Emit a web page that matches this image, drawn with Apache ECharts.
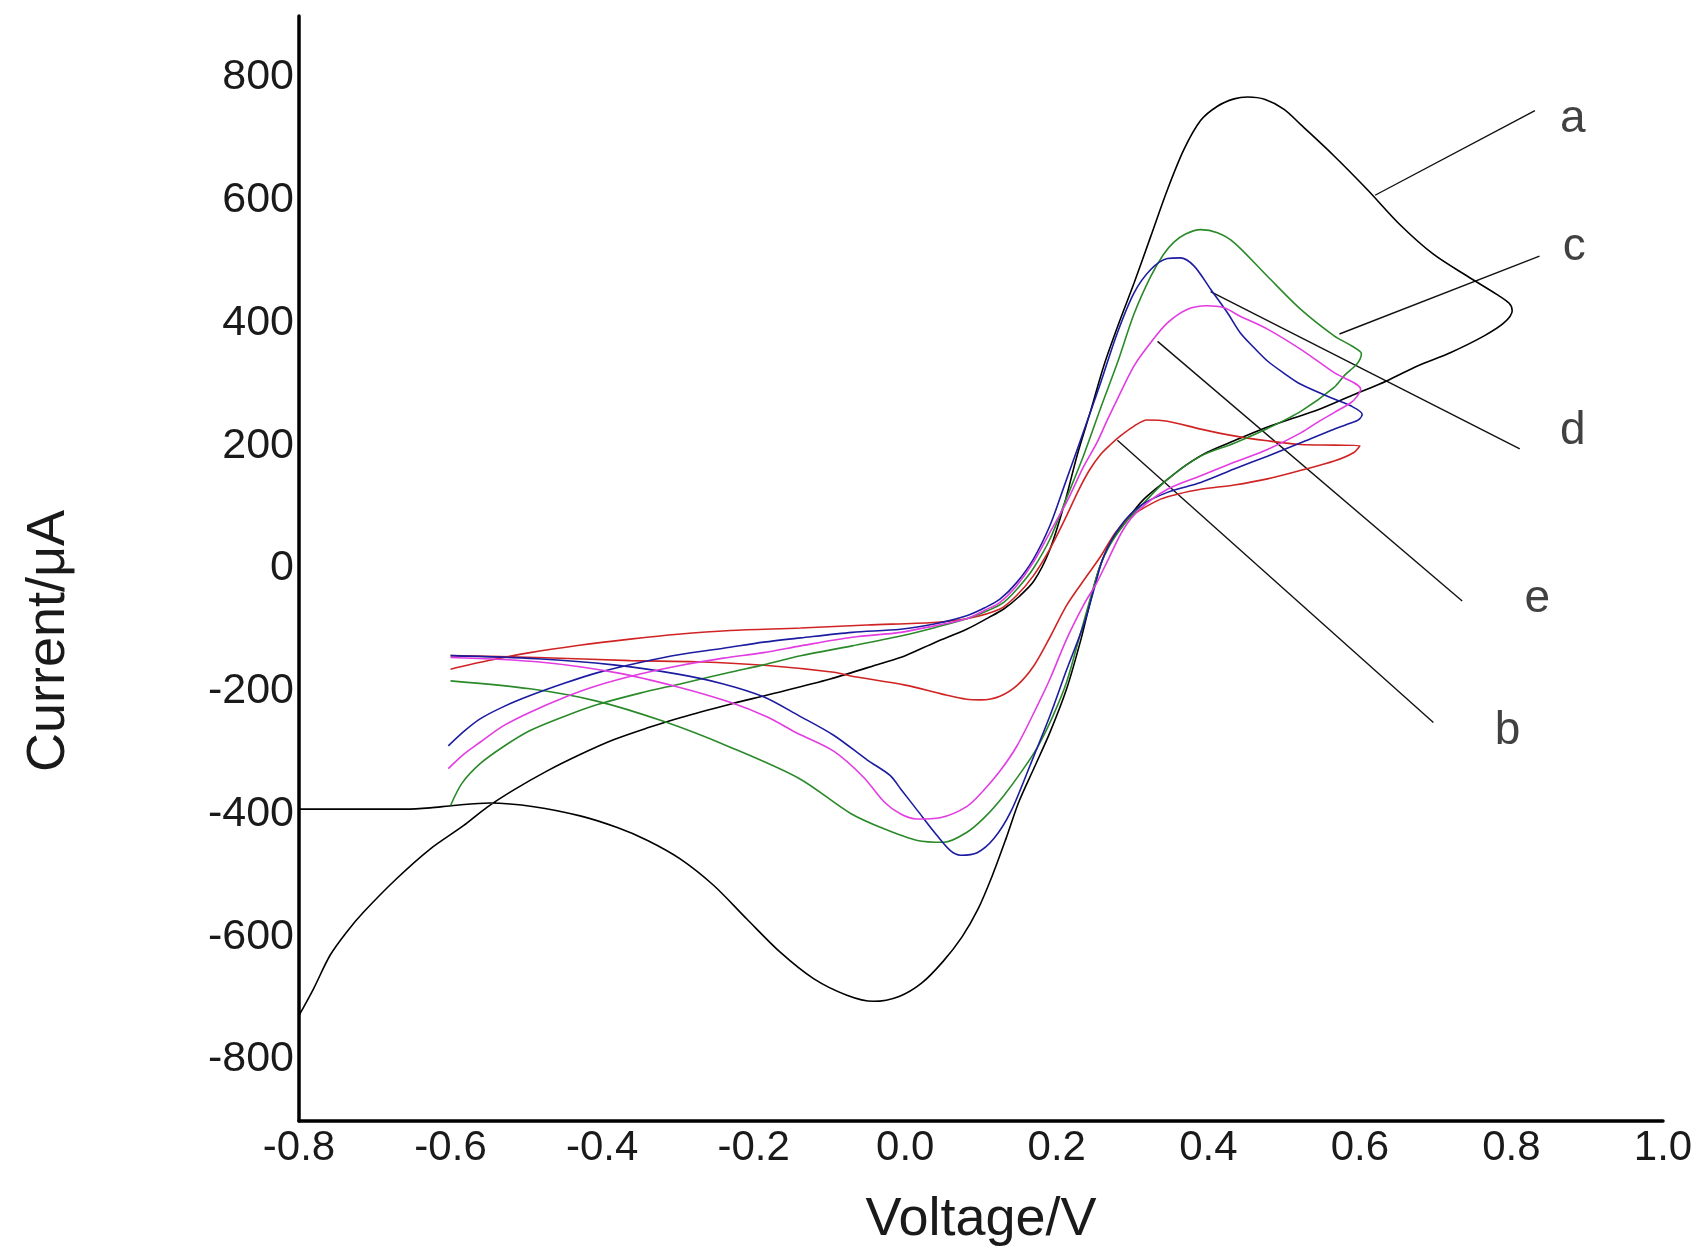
<!DOCTYPE html>
<html>
<head>
<meta charset="utf-8">
<style>
html,body{margin:0;padding:0;background:#fff;}
#chart{width:1704px;height:1255px;}
</style>
<script src="https://cdn.jsdelivr.net/npm/echarts@6/dist/echarts.min.js"></script>
</head>
<body>
<div id="chart"></div>
<script>
// Cyclic voltammograms: [voltage V, current µA] in sweep order
const curveA = [
[-0.800,-728],[-0.781,-685],[-0.759,-630],[-0.737,-592],[-0.715,-560],[-0.671,-505],[-0.627,-457],[-0.583,-419],[-0.552,-389],[-0.517,-361],[-0.473,-330],[-0.429,-303],[-0.385,-279],[-0.341,-260],[-0.297,-243],[-0.231,-221],[-0.182,-206],[-0.099,-180],[-0.033,-155],[0.000,-142],[0.040,-120],[0.081,-99],[0.110,-80],[0.130,-66],[0.150,-46],[0.170,-20],[0.190,28],[0.210,105],[0.227,185],[0.245,258],[0.262,330],[0.282,400],[0.302,465],[0.324,541],[0.346,617],[0.368,683],[0.390,730],[0.412,753],[0.434,765],[0.452,768],[0.475,764],[0.500,748],[0.522,723],[0.566,672],[0.610,617],[0.653,560],[0.697,512],[0.742,476],[0.780,447],[0.797,432],[0.801,420],[0.790,400],[0.764,379],[0.720,352],[0.676,330],[0.636,306],[0.588,281],[0.544,258],[0.500,240],[0.473,228],[0.434,208],[0.398,189],[0.370,168],[0.346,145],[0.315,113],[0.293,80],[0.271,42],[0.256,0],[0.245,-50],[0.232,-115],[0.213,-196],[0.191,-267],[0.170,-325],[0.150,-380],[0.133,-440],[0.115,-500],[0.096,-555],[0.075,-600],[0.050,-640],[0.022,-675],[-0.008,-697],[-0.042,-705],[-0.077,-695],[-0.121,-668],[-0.165,-625],[-0.209,-571],[-0.253,-516],[-0.297,-473],[-0.340,-443],[-0.380,-422],[-0.429,-403],[-0.490,-388],[-0.548,-382],[-0.596,-386],[-0.627,-390],[-0.660,-392],[-0.800,-392]
];
const curveB = [
[-0.600,-164],[-0.550,-150],[-0.495,-137],[-0.430,-125],[-0.363,-115],[-0.300,-107],[-0.231,-101],[-0.138,-97],[-0.050,-92],[0.037,-88],[0.081,-82],[0.125,-66],[0.147,-44],[0.169,-12],[0.191,32],[0.213,86],[0.229,128],[0.243,160],[0.258,186],[0.271,202],[0.284,216],[0.302,232],[0.319,242],[0.346,240],[0.390,227],[0.434,216],[0.478,208],[0.522,202],[0.566,201],[0.600,200],[0.592,189],[0.566,175],[0.522,160],[0.478,146],[0.434,136],[0.390,129],[0.359,121],[0.337,113],[0.310,95],[0.293,80],[0.277,58],[0.258,20],[0.238,-15],[0.213,-60],[0.191,-112],[0.170,-158],[0.148,-190],[0.125,-208],[0.100,-214],[0.081,-213],[0.050,-205],[0.000,-190],[-0.072,-175],[-0.094,-169],[-0.182,-158],[-0.275,-152],[-0.363,-150],[-0.486,-145],[-0.600,-142]
];
const curveC = [
[-0.600,-386],[-0.585,-350],[-0.561,-318],[-0.530,-290],[-0.495,-264],[-0.450,-241],[-0.407,-222],[-0.350,-203],[-0.297,-188],[-0.231,-169],[-0.187,-157],[-0.138,-142],[-0.070,-126],[-0.006,-110],[0.040,-96],[0.081,-82],[0.110,-68],[0.130,-55],[0.150,-30],[0.169,0],[0.191,48],[0.213,115],[0.235,183],[0.258,262],[0.280,335],[0.302,415],[0.324,476],[0.341,512],[0.355,532],[0.370,545],[0.390,552],[0.412,547],[0.434,531],[0.478,476],[0.522,422],[0.566,379],[0.590,362],[0.602,350],[0.596,333],[0.580,315],[0.566,295],[0.522,256],[0.478,228],[0.434,204],[0.390,183],[0.346,145],[0.315,107],[0.293,78],[0.271,40],[0.256,0],[0.244,-50],[0.228,-120],[0.213,-185],[0.195,-240],[0.175,-290],[0.155,-328],[0.130,-370],[0.105,-405],[0.081,-430],[0.051,-446],[0.016,-443],[-0.028,-424],[-0.072,-399],[-0.140,-342],[-0.231,-291],[-0.319,-249],[-0.407,-216],[-0.495,-196],[-0.600,-183]
];
const curveD = [
[-0.603,-289],[-0.582,-265],[-0.561,-245],[-0.530,-225],[-0.495,-207],[-0.450,-187],[-0.407,-170],[-0.350,-153],[-0.297,-140],[-0.240,-130],[-0.187,-120],[-0.138,-113],[-0.070,-104],[-0.006,-99],[0.040,-90],[0.081,-77],[0.105,-64],[0.125,-50],[0.147,-23],[0.169,15],[0.191,70],[0.210,135],[0.227,194],[0.243,250],[0.258,303],[0.280,384],[0.302,449],[0.324,487],[0.346,505],[0.363,506],[0.381,493],[0.403,455],[0.425,417],[0.442,384],[0.460,360],[0.478,338],[0.500,318],[0.522,300],[0.566,276],[0.588,265],[0.603,251],[0.598,242],[0.588,237],[0.566,227],[0.522,205],[0.478,183],[0.434,162],[0.390,140],[0.346,124],[0.310,102],[0.284,69],[0.262,20],[0.250,-30],[0.236,-90],[0.213,-165],[0.191,-240],[0.165,-320],[0.139,-397],[0.117,-440],[0.095,-463],[0.073,-467],[0.060,-460],[0.042,-435],[0.016,-394],[-0.006,-359],[-0.020,-337],[-0.050,-312],[-0.094,-272],[-0.140,-240],[-0.187,-209],[-0.240,-188],[-0.300,-172],[-0.385,-157],[-0.486,-147],[-0.600,-142]
];
const curveE = [
[-0.603,-326],[-0.582,-302],[-0.561,-283],[-0.530,-256],[-0.495,-234],[-0.450,-210],[-0.407,-191],[-0.350,-172],[-0.297,-158],[-0.240,-146],[-0.187,-137],[-0.138,-126],[-0.070,-112],[-0.006,-104],[0.040,-93],[0.081,-82],[0.105,-68],[0.125,-55],[0.147,-28],[0.169,10],[0.191,59],[0.213,108],[0.235,165],[0.253,205],[0.266,240],[0.280,276],[0.302,330],[0.324,368],[0.346,400],[0.372,422],[0.398,428],[0.420,425],[0.442,411],[0.478,390],[0.522,357],[0.566,319],[0.601,292],[0.596,280],[0.588,270],[0.566,254],[0.544,238],[0.522,221],[0.478,194],[0.434,173],[0.390,151],[0.346,129],[0.310,97],[0.288,64],[0.268,15],[0.252,-25],[0.236,-58],[0.213,-115],[0.191,-180],[0.169,-237],[0.147,-290],[0.125,-330],[0.103,-362],[0.081,-388],[0.046,-406],[0.015,-408],[-0.006,-400],[-0.028,-380],[-0.055,-340],[-0.094,-298],[-0.143,-268],[-0.182,-242],[-0.231,-218],[-0.300,-193],[-0.380,-170],[-0.486,-152],[-0.600,-145]
];
// leader lines from curves to their letters
const leaderA = [[0.620,608],[0.831,746]];
const leaderB = [[0.280,209],[0.697,-251]];
const leaderC = [[0.573,382],[0.837,509]];
const leaderD = [[0.403,451],[0.811,195]];
const leaderE = [[0.333,370],[0.735,-53]];
const letterNames = ['a','b','c','d','e'];
const letterPos = [[0.881,731],[0.795,-266],[0.883,523],[0.881,224],[0.834,-50]];
const yTicks = [-800,-600,-400,-200,0,200,400,600,800];
const xTicks = [-0.8,-0.6,-0.4,-0.2,0.0,0.2,0.4,0.6,0.8,1.0];

const FONT = 'Liberation Sans, Arial, Helvetica, sans-serif';
const chart = echarts.init(document.getElementById('chart'), null, {renderer:'canvas'});

function cv(name, data, color, w){
  return {name, type:'line', data, showSymbol:false, symbol:'none', smooth:0.3,
    lineStyle:{color, width:w||1.6}, z:3, silent:true};
}
function leader(data){
  return {type:'line', data, showSymbol:false, symbol:'none', smooth:false,
    lineStyle:{color:'#111', width:1.4}, z:2, silent:true};
}

const option = {
  animation:false,
  backgroundColor:'#ffffff',
  grid:{left:299, right:41, top:16, bottom:134, containLabel:false},
  xAxis:{
    type:'value', min:-0.8, max:1.0, interval:0.2,
    axisLine:{show:true, onZero:false, lineStyle:{color:'#000', width:3.5}},
    axisTick:{show:false}, splitLine:{show:false},
    axisLabel:{fontSize:42, fontFamily:FONT, color:'#1a1a1a', margin:6,
      formatter:v=> (Math.abs(v)<1e-9?0:v).toFixed(1)},
    name:'Voltage/V', nameLocation:'middle', nameGap:72,
    nameTextStyle:{fontSize:54, fontFamily:FONT, color:'#1a1a1a'}
  },
  yAxis:{
    type:'value', min:-900, max:900,
    axisLine:{show:true, onZero:false, lineStyle:{color:'#000', width:3.5}},
    axisTick:{show:false}, splitLine:{show:false},
    axisLabel:{fontSize:43, fontFamily:FONT, color:'#1a1a1a', margin:5,
      customValues:yTicks}
  },
  graphic:[{
    type:'text', x:49, y:641, rotation:Math.PI/2,
    style:{text:'Current/μA', font:'54px '+FONT, fill:'#1a1a1a', align:'center', verticalAlign:'middle'}
  }],
  series:[
    cv('a', curveA, '#000000', 1.6),
    cv('b', curveB, '#d02424', 1.6),
    cv('c', curveC, '#2a8a2a', 1.6),
    cv('d', curveD, '#1c1ca0', 1.6),
    cv('e', curveE, '#e23ce2', 1.6),
    leader(leaderA), leader(leaderB), leader(leaderC), leader(leaderD), leader(leaderE),
    {type:'scatter', symbolSize:0, silent:true, z:4,
      data: letterNames.map((n,i)=>({name:n, value:letterPos[i]})),
      label:{show:true, position:'inside', formatter:p=>p.name,
        fontSize:46, fontFamily:FONT, color:'#111'}}
  ]
};
chart.setOption(option);
</script>
</body>
</html>
